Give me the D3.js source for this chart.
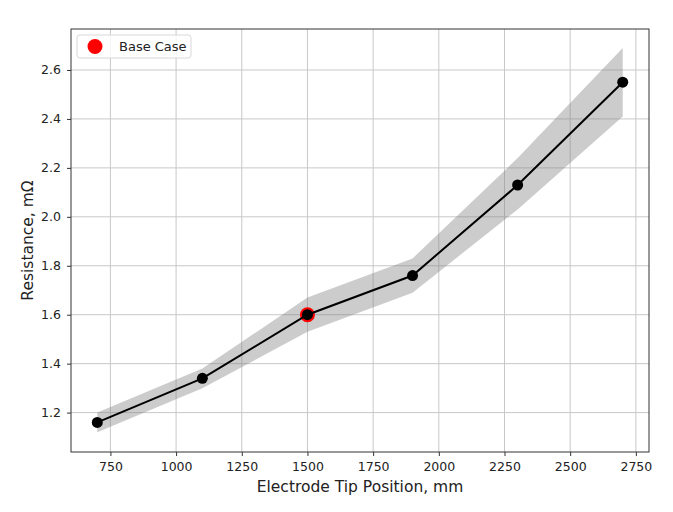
<!DOCTYPE html>
<html><head><meta charset="utf-8">
<script src="https://cdn.jsdelivr.net/npm/d3@7"></script>
<style>body{margin:0;background:#fff;} text{font-family:"DejaVu Sans",sans-serif;fill:#222;}</style>
</head><body>
<svg id="c" width="673" height="512"></svg>
<script>
const positions = [700, 1100, 1500, 1900, 2300, 2700];
const resistance = [1.16, 1.34, 1.60, 1.76, 2.13, 2.55];
const bandLower = [1.12, 1.30, 1.53, 1.69, 2.03, 2.41];
const bandUpper = [1.20, 1.38, 1.67, 1.83, 2.24, 2.69];
const baseCase = {x: 1500, y: 1.60};
const xTicks = [750, 1000, 1250, 1500, 1750, 2000, 2250, 2500, 2750];
const yTicks = [1.2, 1.4, 1.6, 1.8, 2.0, 2.2, 2.4, 2.6];
const legendLabel = "Base Case";
const xLabel = "Electrode Tip Position, mm";
const yLabel = "Resistance, mΩ";

const svg = d3.select("#c");
const L = 71, R = 649, T = 29, B = 452;
const x = d3.scaleLinear().domain([600, 2800]).range([L, R]);
const y = d3.scaleLinear().domain([1.039, 2.7675]).range([B, T]);

// grid
const g = svg.append("g");
g.selectAll(".vx").data(xTicks).join("line")
  .attr("x1", d => x(d)).attr("x2", d => x(d)).attr("y1", T).attr("y2", B)
  .attr("stroke", "#c8c8c8").attr("stroke-width", 1);
g.selectAll(".hy").data(yTicks).join("line")
  .attr("y1", d => y(d)).attr("y2", d => y(d)).attr("x1", L).attr("x2", R)
  .attr("stroke", "#c8c8c8").attr("stroke-width", 1);

const pts = positions.map((p, i) => ({p, r: resistance[i], lo: bandLower[i], hi: bandUpper[i]}));

// band
svg.append("path").datum(pts)
  .attr("d", d3.area().x(d => x(d.p)).y0(d => y(d.lo)).y1(d => y(d.hi)))
  .attr("fill", "rgba(128,128,128,0.4)").attr("stroke", "none");

// base case
svg.append("circle").attr("cx", x(baseCase.x)).attr("cy", y(baseCase.y)).attr("r", 7.5).attr("fill", "#ff0000");

// line
svg.append("path").datum(pts)
  .attr("d", d3.line().x(d => x(d.p)).y(d => y(d.r)))
  .attr("fill", "none").attr("stroke", "#000").attr("stroke-width", 2);
svg.selectAll(".pt").data(pts).join("circle")
  .attr("cx", d => x(d.p)).attr("cy", d => y(d.r)).attr("r", 5.5).attr("fill", "#000");

// axes
const xa = svg.append("g").attr("transform", `translate(0,${B})`)
  .call(d3.axisBottom(x).tickValues(xTicks).tickFormat(d3.format("d")).tickSize(4).tickPadding(6));
const ya = svg.append("g").attr("transform", `translate(${L},0)`)
  .call(d3.axisLeft(y).tickValues(yTicks).tickFormat(d3.format(".1f")).tickSize(4).tickPadding(6));
[xa, ya].forEach(a => {
  a.selectAll("text").attr("font-size", 12.5).attr("font-family", "DejaVu Sans").attr("fill", "#222");
  a.selectAll("line").attr("stroke", "#333");
  a.select(".domain").remove();
});
svg.append("rect").attr("x", L).attr("y", T).attr("width", R - L).attr("height", B - T)
  .attr("fill", "none").attr("stroke", "#333").attr("stroke-width", 1);

svg.append("text").attr("x", (L + R) / 2).attr("y", 492).attr("text-anchor", "middle")
  .attr("font-size", 15.5).text(xLabel);
svg.append("text").attr("transform", `translate(33,${(T + B) / 2}) rotate(-90)`)
  .attr("text-anchor", "middle").attr("font-size", 15.5).text(yLabel);

// legend
const lg = svg.append("g");
lg.append("rect").attr("x", 77).attr("y", 35).attr("width", 114).attr("height", 23).attr("rx", 3)
  .attr("fill", "#fff").attr("fill-opacity", 0.8).attr("stroke", "#d8d8d8");
lg.append("circle").attr("cx", 95).attr("cy", 46.5).attr("r", 7.5).attr("fill", "#ff0000");
lg.append("text").attr("x", 119).attr("y", 51).attr("font-size", 13).text(legendLabel);
</script>
</body></html>
